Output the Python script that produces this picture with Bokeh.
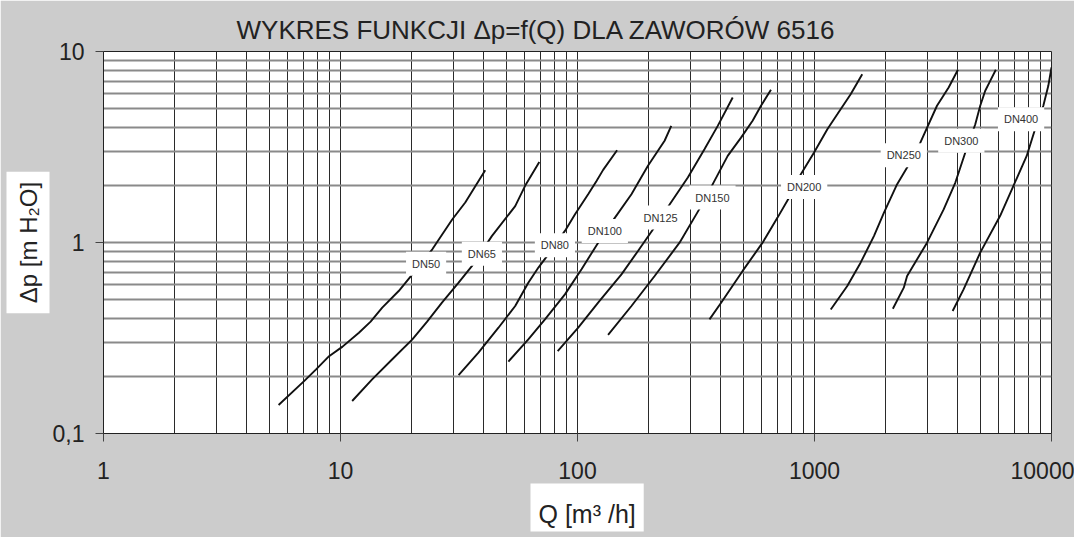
from bokeh.plotting import figure
from bokeh.models import FixedTicker, Label, Range1d, Title
from bokeh.embed import file_html
from bokeh.resources import INLINE

# ---- data (Q in m3/h, dp in m H2O) ----
dn50_q = [5.48, 7.02, 7.87, 8.95, 10.2, 11.96, 13.4, 15.0, 17.6, 20.1, 24.4, 29.6, 33.6, 40.8]
dn50_dp = [0.141, 0.188, 0.216, 0.254, 0.285, 0.337, 0.385, 0.456, 0.557, 0.681, 0.921, 1.32, 1.62, 2.39]

dn65_q = [11.2, 13.6, 16.5, 20.1, 23.2, 26.8, 31.5, 35.9, 43.5, 54.6, 60.1, 69.0]
dn65_dp = [0.148, 0.192, 0.244, 0.311, 0.385, 0.484, 0.616, 0.754, 1.08, 1.55, 1.98, 2.64]

dn80_q = [31.5, 38.2, 46.4, 54.6, 62.0, 68.4, 75.3, 88.5, 97.5, 110.9, 120.3, 128.3, 146.9]
dn80_dp = [0.202, 0.265, 0.358, 0.465, 0.616, 0.739, 0.867, 1.15, 1.40, 1.79, 2.10, 2.40, 3.04]

dn100_q = [51.1, 62.0, 72.9, 88.5, 104.0, 121.5, 142.7, 168.9, 198.3, 233.1, 248.7]
dn100_dp = [0.238, 0.311, 0.396, 0.535, 0.724, 0.986, 1.33, 1.79, 2.52, 3.41, 4.08]

dn125_q = [82.5, 100.7, 122.2, 153.3, 180.0, 208.1, 244.7, 292.1, 343.3, 390.6, 451.7]
dn125_dp = [0.270, 0.358, 0.484, 0.681, 0.903, 1.17, 1.58, 2.19, 3.08, 4.08, 5.74]

dn150_q = [134.6, 168.9, 211.6, 269.5, 327.1, 372.1, 430.3, 489.8, 548.1, 594.6, 655.1]
dn150_dp = [0.328, 0.465, 0.668, 0.998, 1.50, 2.02, 2.84, 3.54, 4.34, 5.20, 6.30]

dn200_q = [360.5, 403.6, 497.5, 603.8, 698.2, 781.9, 875.8, 995.8, 1133, 1248, 1421, 1590]
dn200_dp = [0.396, 0.484, 0.710, 0.998, 1.35, 1.72, 2.28, 2.96, 3.92, 4.69, 5.98, 7.61]

dn250_q = [1171, 1375, 1565, 1781, 1962, 2232, 2459, 2799, 3287, 3681, 4029]
dn250_dp = [0.446, 0.592, 0.784, 1.08, 1.43, 2.02, 2.47, 3.34, 5.20, 6.48, 8.02]

dn300_q = [2141, 2381, 2459, 2984, 3508, 3929, 4328, 4769, 5003, 5253, 5513, 5822]
dn300_dp = [0.450, 0.580, 0.668, 0.998, 1.49, 2.06, 2.96, 4.16, 5.20, 6.23, 7.02, 8.02]

dn400_q = [3827, 4256, 5003, 6073, 6908, 7859, 8523, 9237, 9694, 10000]
dn400_dp = [0.438, 0.568, 0.885, 1.38, 1.98, 2.84, 3.92, 5.20, 6.61, 8.25]

series_names = ["DN50", "DN65", "DN80", "DN100", "DN125", "DN150", "DN200", "DN250", "DN300", "DN400"]
label_q = [22.97, 39.5, 80.3, 130.4, 224.2, 371.0, 904.4, 2381, 4164, 7441]
label_dp = [0.775, 0.874, 0.966, 1.15, 1.35, 1.718, 1.955, 2.861, 3.405, 4.418]

x_ticks = [1, 10, 100, 1000, 10000]
x_tick_labels = ["1", "10", "100", "1000", "10000"]
y_ticks = [0.1, 1, 10]
y_tick_labels = ["0,1", "1", "10"]

title_text = "WYKRES FUNKCJI \u0394p=f(Q) DLA ZAWORÓW 6516"
x_label_text = "Q [m\u00b3 /h]"
y_label_text = "\u0394p [m H\u2082O]"

FONT = "Liberation Sans"
TXT = "#222222"

p = figure(width=1074, height=537, x_axis_type="log", y_axis_type="log",
           x_range=Range1d(1, 10000), y_range=Range1d(0.1, 10),
           output_backend="svg", toolbar_location=None, title=title_text,
           min_border_left=99, min_border_right=23, min_border_top=51, min_border_bottom=104,
           background_fill_color="white", border_fill_color="#cccccc")

p.title.align = "left"
p.title.offset = 133
p.title.text_font = FONT
p.title.text_font_size = "26px"
p.title.text_font_style = "normal"
p.title.text_color = TXT
p.title.standoff = 13

p.outline_line_color = "#222222"
p.outline_line_width = 1

# grid lines at every 1..9 x decade
xgrid_ticks = [m * 10 ** e for e in range(0, 4) for m in range(1, 10)] + [10000]
ygrid_ticks = [m * 10.0 ** e for e in range(-1, 1) for m in range(1, 10)] + [10]
p.xgrid.ticker = FixedTicker(ticks=xgrid_ticks, minor_ticks=[])
p.ygrid.ticker = FixedTicker(ticks=ygrid_ticks, minor_ticks=[])
p.xgrid.grid_line_color = "#2a2a2a"
p.xgrid.grid_line_width = 1
p.ygrid.grid_line_color = "#8a8a8a"
p.ygrid.grid_line_width = 2

for ax, ticks, labs in ((p.xaxis[0], x_ticks, x_tick_labels), (p.yaxis[0], y_ticks, y_tick_labels)):
    ax.ticker = FixedTicker(ticks=ticks, minor_ticks=[])
    ax.major_label_overrides = dict(zip(ticks, labs))
    ax.major_tick_out = 8
    ax.major_tick_in = 0
    ax.minor_tick_out = 0
    ax.minor_tick_in = 0
    ax.axis_line_color = "#222222"
    ax.major_tick_line_color = "#444444"
    ax.major_label_text_font = FONT
    ax.major_label_text_font_size = "23px"
    ax.major_label_text_color = TXT

p.xaxis.major_label_standoff = 20
p.yaxis.major_label_standoff = 11


def axis_title(text, size, pad, **kw):
    t = Title(text=text, text_font=FONT, text_font_size=size, text_font_style="normal",
              text_color=TXT, **kw)
    props = t.properties()
    if "background_fill_color" in props:
        t.background_fill_color = "white"
    if "padding" in props:
        t.padding = pad
    return t


p.add_layout(axis_title(x_label_text, "25px", dict(left=8, right=8, top=16, bottom=4),
                        align="left", offset=427, standoff=0), "below")
p.add_layout(axis_title(y_label_text, "24px", dict(left=10, right=10, top=8, bottom=8),
                        align="center", standoff=0), "left")

all_q = [dn50_q, dn65_q, dn80_q, dn100_q, dn125_q, dn150_q, dn200_q, dn250_q, dn300_q, dn400_q]
all_dp = [dn50_dp, dn65_dp, dn80_dp, dn100_dp, dn125_dp, dn150_dp, dn200_dp, dn250_dp, dn300_dp, dn400_dp]
for q, dp in zip(all_q, all_dp):
    p.line(q, dp, line_color="#111111", line_width=1.9)

for name, lq, ld in zip(series_names, label_q, label_dp):
    p.add_layout(Label(x=lq, y=ld, text=name, text_font=FONT, text_font_size="11px",
                       text_color="#333333", text_align="center", text_baseline="middle",
                       background_fill_color="white", padding=6))

open("out.html", "w").write(file_html(p, INLINE))
